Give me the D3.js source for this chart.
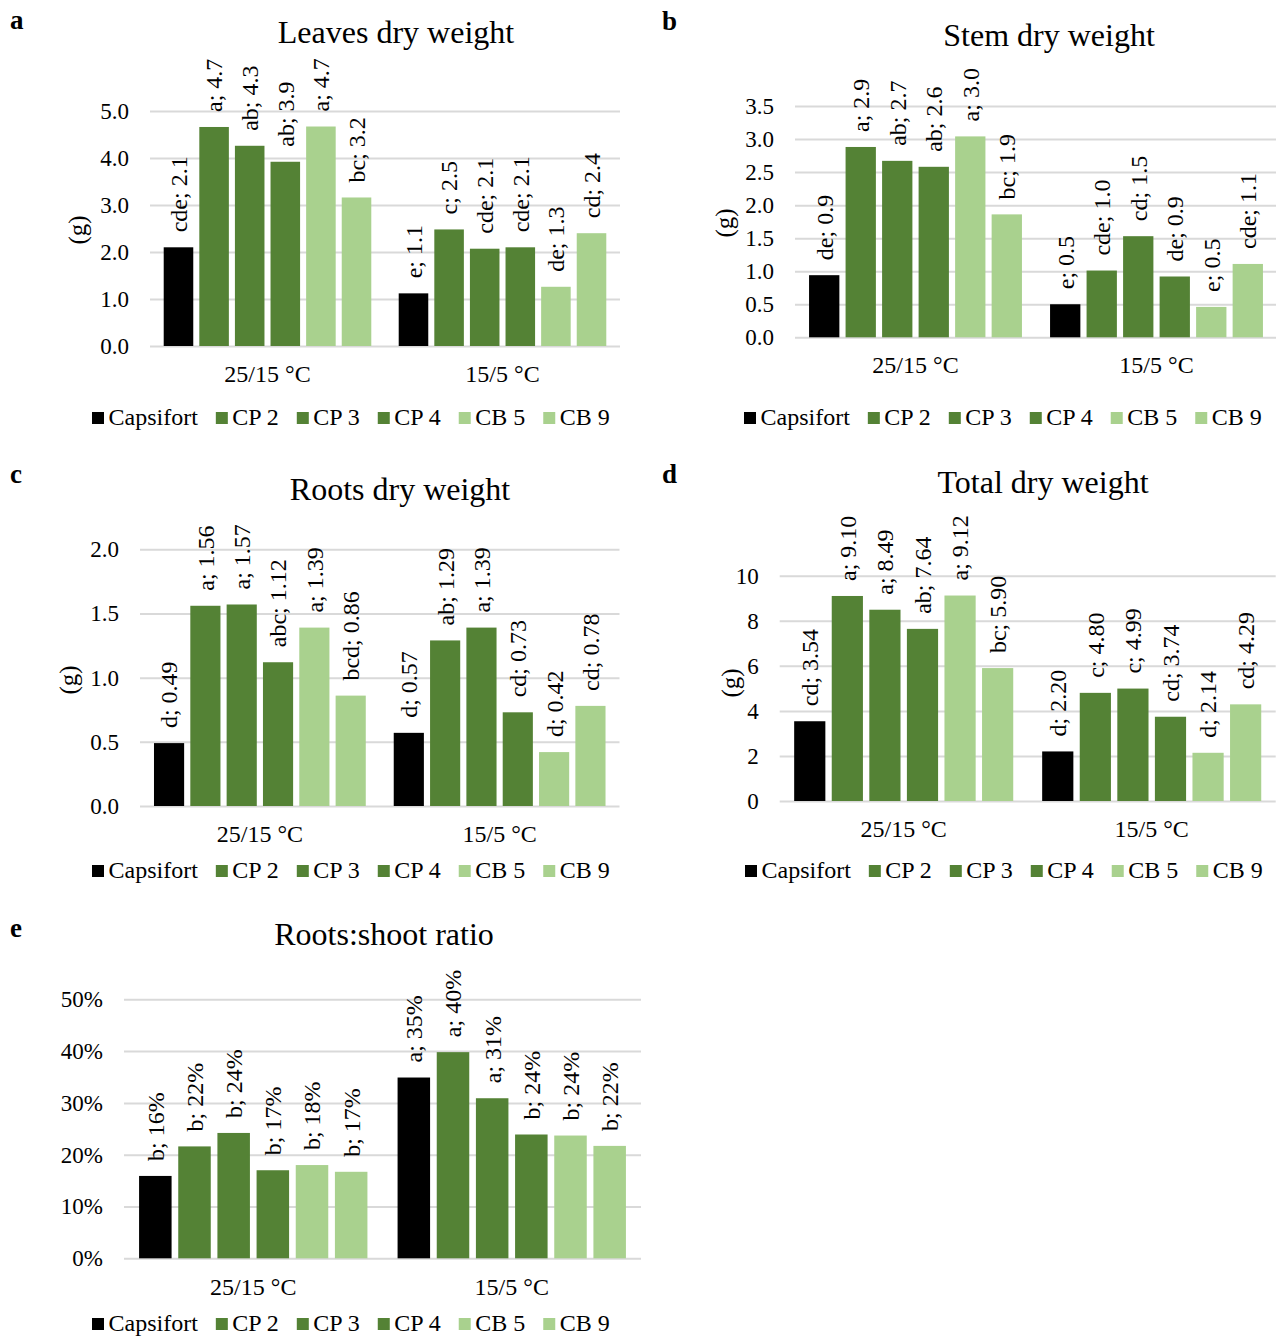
<!DOCTYPE html>
<html><head><meta charset="utf-8">
<script src="https://cdn.jsdelivr.net/npm/d3@7"></script>
<style>body{margin:0;background:#fff}svg{display:block}</style>
</head><body>
<svg id="chart" width="1276" height="1336"></svg>
<script>
// ---------- data ----------
const categories = ["25/15 °C", "15/5 °C"];
const series = ["Capsifort", "CP 2", "CP 3", "CP 4", "CB 5", "CB 9"];

const leavesValues  = [[2.10, 4.66, 4.26, 3.92, 4.67, 3.16], [1.12, 2.48, 2.07, 2.10, 1.26, 2.40]];
const leavesLetters = [["cde", "a", "ab", "ab", "a", "bc"], ["e", "c", "cde", "cde", "de", "cd"]];
const leavesTicks   = [0, 1, 2, 3, 4, 5];

const stemValues  = [[0.94, 2.88, 2.67, 2.58, 3.04, 1.86], [0.50, 1.01, 1.53, 0.92, 0.46, 1.11]];
const stemLetters = [["de", "a", "ab", "ab", "a", "bc"], ["e", "cde", "cd", "de", "e", "cde"]];
const stemTicks   = [0, 0.5, 1, 1.5, 2, 2.5, 3, 3.5];

const rootsValues  = [[0.49, 1.56, 1.57, 1.12, 1.39, 0.86], [0.57, 1.29, 1.39, 0.73, 0.42, 0.78]];
const rootsLetters = [["d", "a", "a", "abc", "a", "bcd"], ["d", "ab", "a", "cd", "d", "cd"]];
const rootsTicks   = [0, 0.5, 1, 1.5, 2];

const totalValues  = [[3.54, 9.10, 8.49, 7.64, 9.12, 5.90], [2.20, 4.80, 4.99, 3.74, 2.14, 4.29]];
const totalLetters = [["cd", "a", "a", "ab", "a", "bc"], ["d", "c", "c", "cd", "d", "cd"]];
const totalTicks   = [0, 2, 4, 6, 8, 10];

const ratioValues  = [[0.159, 0.216, 0.242, 0.170, 0.180, 0.167], [0.349, 0.398, 0.309, 0.239, 0.237, 0.217]];
const ratioLetters = [["b", "b", "b", "b", "b", "b"], ["a", "a", "a", "b", "b", "b"]];
const ratioTicks   = [0, 0.1, 0.2, 0.3, 0.4, 0.5];

// ---------- style ----------
const palette = ["#000000", "#548235", "#548235", "#548235", "#A9D18E", "#A9D18E"];
const FONT = "'Liberation Serif','Times New Roman',serif";
const GRID = "#D9D9D9";

const svg = d3.select("#chart").style("font-family", FONT);

function hText(g, x, y, str, size, anchor, weight) {
  return g.append("text")
    .attr("x", x).attr("y", y)
    .attr("text-anchor", anchor || "start")
    .attr("font-size", size)
    .attr("font-weight", weight || "normal")
    .attr("fill", "#000")
    .text(str);
}

const panels = [
  {letter: "a", lx: 10, ly: 29, title: "Leaves dry weight", tx: 396, ty: 43,
   xr: [150, 620], yr: [346, 111], values: leavesValues, letters: leavesLetters, ticks: leavesTicks,
   tickFmt: d3.format(".1f"), valFmt: d3.format(".1f"), yt: [77.6, 230], catY: 382, legX: 92, legY: 425},
  {letter: "b", lx: 662, ly: 30, title: "Stem dry weight", tx: 1049, ty: 46,
   xr: [795, 1277], yr: [337.3, 106], values: stemValues, letters: stemLetters, ticks: stemTicks,
   tickFmt: d3.format(".1f"), valFmt: d3.format(".1f"), yt: [724, 223], catY: 373, legX: 744, legY: 425},
  {letter: "c", lx: 10, ly: 483, title: "Roots dry weight", tx: 400, ty: 500,
   xr: [140, 619.5], yr: [806, 549.3], values: rootsValues, letters: rootsLetters, ticks: rootsTicks,
   tickFmt: d3.format(".1f"), valFmt: d3.format(".2f"), yt: [68.6, 680], catY: 842, legX: 92, legY: 878},
  {letter: "d", lx: 662, ly: 483, title: "Total dry weight", tx: 1043, ty: 493,
   xr: [779.7, 1275.7], yr: [801, 575.7], values: totalValues, letters: totalLetters, ticks: totalTicks,
   tickFmt: d3.format("d"), valFmt: d3.format(".2f"), yt: [730.6, 683], catY: 837, legX: 745, legY: 878},
  {letter: "e", lx: 10, ly: 937, title: "Roots:shoot ratio", tx: 384, ty: 945,
   xr: [124, 641], yr: [1258.3, 999.3], values: ratioValues, letters: ratioLetters, ticks: ratioTicks,
   tickFmt: d3.format(".0%"), valFmt: d3.format(".0%"), yt: null, catY: 1295, legX: 92, legY: 1331}
];

panels.forEach(p => {
  const g = svg.append("g");
  const y = d3.scaleLinear().domain([0, p.ticks[p.ticks.length - 1]]).range(p.yr);
  const x0 = d3.scaleBand().domain(categories).range(p.xr).paddingInner(0).paddingOuter(0);
  const x1 = d3.scaleBand().domain(series).range([0, x0.bandwidth()]).paddingInner(0.17).paddingOuter(0.385);

  // panel letter + title
  hText(g, p.lx, p.ly, p.letter, 27, "start", "bold");
  hText(g, p.tx, p.ty, p.title, 32, "middle");

  // gridlines + tick labels via axis
  const axis = d3.axisLeft(y).tickValues(p.ticks).tickFormat(p.tickFmt)
    .tickSize(-(p.xr[1] - p.xr[0])).tickPadding(21);
  const ag = g.append("g").attr("transform", `translate(${p.xr[0]},0)`).call(axis);
  ag.select(".domain").remove();
  ag.selectAll(".tick line").attr("stroke", GRID).attr("stroke-width", 2);
  ag.selectAll(".tick text")
    .attr("font-family", FONT).attr("font-size", 23).attr("fill", "#000");

  // y title
  if (p.yt) {
    g.append("text")
      .attr("transform", `translate(${p.yt[0]},${p.yt[1]}) rotate(-90)`)
      .attr("text-anchor", "middle").attr("dy", "0.35em")
      .attr("font-size", 25).text("(g)");
  }

  // bars
  categories.forEach((cat, ci) => {
    const gg = g.append("g").attr("transform", `translate(${x0(cat)},0)`);
    series.forEach((s, si) => {
      const v = p.values[ci][si];
      gg.append("rect")
        .attr("x", x1(s)).attr("width", x1.bandwidth())
        .attr("y", y(v)).attr("height", y(0) - y(v))
        .attr("fill", palette[si]);
      const cx = x1(s) + x1.bandwidth() / 2;
      gg.append("text")
        .attr("transform", `translate(${cx},${y(v) - 15}) rotate(-90)`)
        .attr("dy", "0.35em").attr("text-anchor", "start")
        .attr("font-size", 24)
        .text(`${p.letters[ci][si]}; ${p.valFmt(v)}`);
    });
    hText(g, x0(cat) + x0.bandwidth() / 2, p.catY, cat, 24, "middle");
  });

  // legend
  let lx = p.legX;
  series.forEach((s, si) => {
    g.append("rect").attr("x", lx).attr("y", p.legY - 13).attr("width", 12).attr("height", 12)
      .attr("fill", palette[si]);
    const t = hText(g, lx + 16.5, p.legY, s, 24, "start");
    const w = t.node().getComputedTextLength();
    lx += 16.5 + w + 18;
  });
});
</script>
</body></html>
